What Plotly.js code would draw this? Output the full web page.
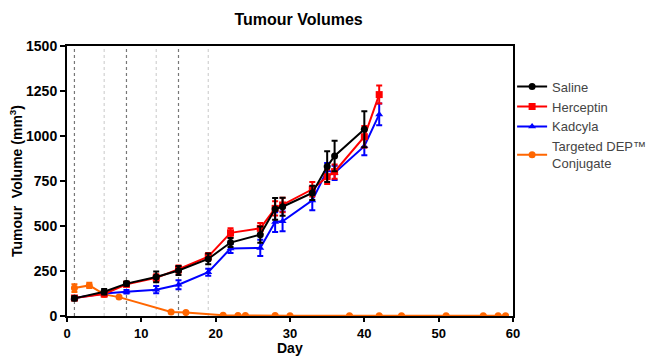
<!DOCTYPE html>
<html>
<head>
<meta charset="utf-8">
<script src="https://cdn.plot.ly/plotly-3.0.1.min.js"></script>
<style>html,body{margin:0;padding:0;background:#fff;}#chart{width:649px;height:356px;}</style>
</head>
<body>
<div id="chart"></div>
<script>
// Days
const salineDays = [1, 5, 8, 12, 15, 19, 22, 26, 28, 29, 33, 35, 36, 40];
const salineVol  = [98, 135, 180, 217, 253, 317, 408, 452, 595, 607, 684, 830, 889, 1037];
const salineErr  = [12, 15, 12, 30, 25, 30, 25, 45, 60, 50, 40, 85, 85, 100];

const hercDays = [1, 5, 8, 12, 15, 19, 22, 26, 28, 29, 33, 35, 36, 40, 42];
const hercVol  = [100, 122, 176, 212, 260, 330, 462, 487, 598, 617, 704, 774, 802, 996, 1230];
const hercErr  = [10, 12, 12, 20, 20, 20, 25, 30, 40, 40, 40, 40, 40, 60, 50];

const kadDays = [1, 5, 8, 12, 15, 19, 22, 26, 28, 29, 33, 35, 36, 40, 42];
const kadVol  = [100, 125, 135, 146, 174, 243, 375, 378, 522, 526, 642, 810, 795, 943, 1120];
const kadErr  = [8, 10, 10, 20, 25, 20, 25, 45, 55, 55, 55, 40, 40, 50, 60];

const depDays = [1, 3, 5, 7, 14, 16, 21, 23, 24, 28, 30, 38, 42, 45, 51, 56, 58, 59];
const depVol  = [155, 170, 120, 105, 22, 19, 4, 3, 3, 3, 2, 2, 2, 2, 2, 2, 2, 2];
const depErr  = [22, 15, 10, 5, 3, 3, 1, 1, 1, 1, 1, 1, 1, 1, 1, 1, 1, 1];

const seriesNames = ["Saline", "Herceptin", "Kadcyla", "Targeted DEP™<br>Conjugate"];

// Dosing days (reference lines)
const doseDaysDark = [1, 8, 15];
const doseDaysLight = [5, 12, 19];

const xTicks = [0, 10, 20, 30, 40, 50, 60];
const yTicks = [0, 250, 500, 750, 1000, 1250, 1500];
const xTitle = "Day";

function series(name, x, y, err, color, symbol, size) {
  return {
    x: x, y: y, name: name, type: 'scatter', mode: 'lines+markers',
    line: {color: color, width: 2},
    marker: {color: color, symbol: symbol, size: size},
    error_y: {type: 'data', array: err, visible: true, color: color, thickness: 2, width: 3}
  };
}

const traces = [
  series(seriesNames[0], salineDays, salineVol, salineErr, '#000000', 'circle', 7),
  series(seriesNames[1], hercDays, hercVol, hercErr, '#ff0000', 'square', 7),
  series(seriesNames[2], kadDays, kadVol, kadErr, '#0000ff', 'triangle-up', 7),
  series(seriesNames[3], depDays, depVol, depErr, '#ff6600', 'circle', 7)
];
// Draw order: orange first so others on top
const ordered = [traces[3], traces[2], traces[1], traces[0]];

const shapes = [];
doseDaysDark.forEach(d => shapes.push({type:'line', xref:'x', yref:'paper', x0:d, x1:d, y0:0, y1:1,
  line:{color:'#777', width:1.2, dash:'dot'}, layer:'below'}));
doseDaysLight.forEach(d => shapes.push({type:'line', xref:'x', yref:'paper', x0:d, x1:d, y0:0, y1:1,
  line:{color:'#c8c8c8', width:1, dash:'dot'}, layer:'below'}));

const layout = {
  width: 649, height: 356,
  margin: {l: 67, r: 136, t: 46, b: 40, autoexpand: false},
  paper_bgcolor: '#fff', plot_bgcolor: '#fff',
  font: {family: 'Liberation Sans, Arial, sans-serif', color: '#000'},
  title: {text: '<b>Tumour Volumes</b>', x: 0.46, xanchor: 'center', y: 0.945, yanchor: 'middle',
    font: {size: 16, color: '#000'}},
  showlegend: true,
  legend: {x: 0.998, y: 0.905, xanchor: 'left', yanchor: 'top', traceorder: 'reversed',
    font: {size: 13, color: '#444'}, tracegroupgap: 0, itemwidth: 30, bgcolor: 'rgba(0,0,0,0)'},
  xaxis: {
    range: [0, 60], tickvals: xTicks, ticktext: xTicks.map(String),
    showline: true, linecolor: '#000', linewidth: 2, mirror: true,
    ticks: 'outside', ticklen: 4, tickwidth: 2, tickcolor: '#000',
    showgrid: false, zeroline: false, automargin: false,
    tickfont: {size: 13, color: '#000', weight: 'bold'}
  },
  yaxis: {
    range: [0, 1500], tickvals: yTicks, ticktext: yTicks.map(String),
    showline: true, linecolor: '#000', linewidth: 2, mirror: true,
    ticks: 'outside', ticklen: 5, tickwidth: 2, tickcolor: '#000',
    showgrid: false, zeroline: false, automargin: false,
    tickfont: {size: 14, color: '#000', weight: 'bold'},
    title: {text: '<b>Tumour  Volume (mm<sup>3</sup>)</b>', font: {size: 14, color: '#000'}, standoff: 0}
  },
  annotations: [{
    text: '<b>' + xTitle + '</b>', xref: 'paper', yref: 'paper', x: 0.5, y: -0.1167,
    xanchor: 'center', yanchor: 'middle', showarrow: false, borderpad: 0,
    font: {size: 14, color: '#000'}
  }],
  shapes: shapes
};

Plotly.newPlot('chart', ordered, layout, {displayModeBar: false, staticPlot: true});
</script>
</body>
</html>
